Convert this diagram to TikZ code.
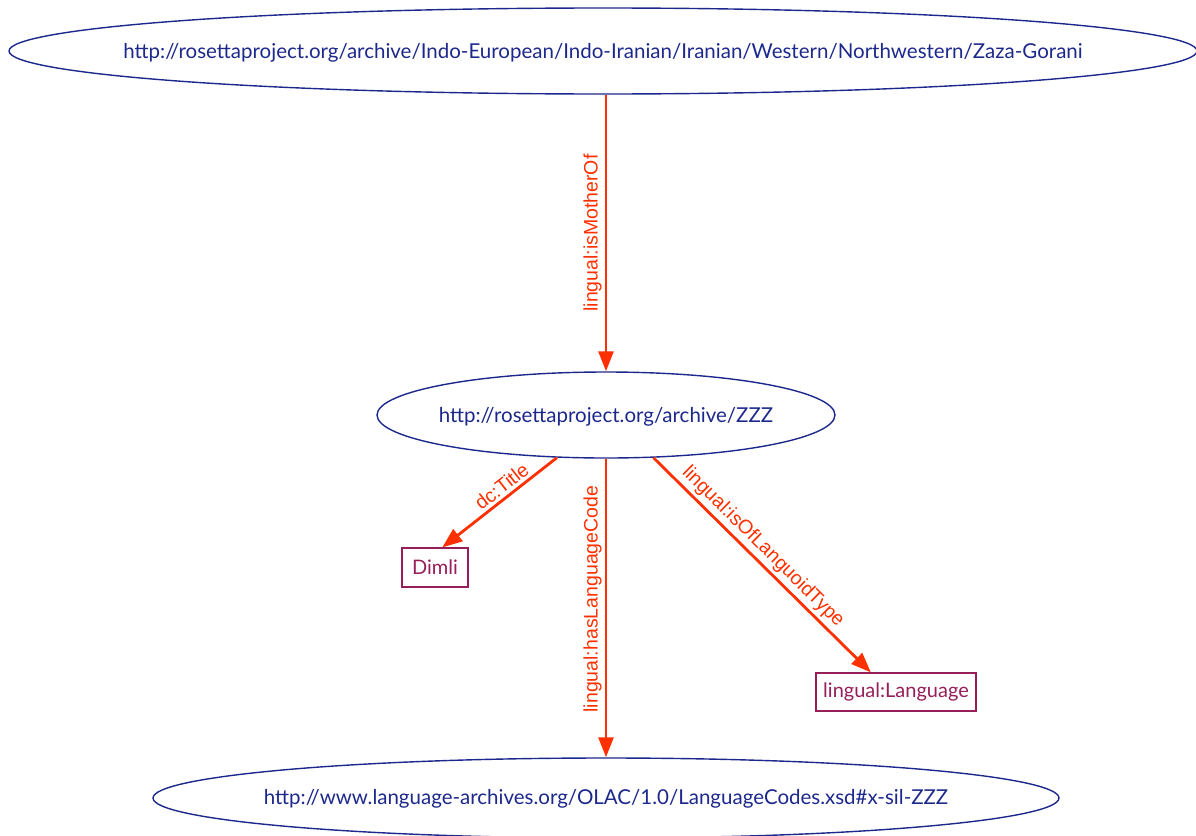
\documentclass[tikz,border=0pt]{standalone}
\usepackage{fontspec}
\setmainfont{Lato}
\newfontfamily\edgefont{Liberation Sans}
\usetikzlibrary{shapes.geometric,arrows.meta}
\definecolor{resblue}{RGB}{28,40,140}
\definecolor{propred}{RGB}{255,48,0}
\definecolor{litmaroon}{RGB}{150,30,90}
\tikzset{
  nodefont/.style={font=\fontsize{20.5}{24}\selectfont},
  resource/.style={ellipse, draw=resblue, line width=1.4pt, inner sep=0pt},
  restext/.style={text=resblue, nodefont, inner sep=0pt},
  literal/.style={rectangle, draw=litmaroon, text=litmaroon, line width=1.2pt,
    inner sep=0pt, font=\fontsize{20}{24}\selectfont},
  prop/.style={draw=propred, line width=2.8pt,
    -{Triangle[length=20pt,width=15pt]}},
  proplabel/.style={text=propred, font=\edgefont\fontsize{19.5}{22}\selectfont, inner sep=3pt}
}
\begin{document}
\begin{tikzpicture}[x=1pt,y=-1pt]
\useasboundingbox (0,0) rectangle (1196,835);

% resources: fixed ellipse outlines, URI centred inside
\node[resource, minimum width=1188pt, minimum height=86pt,
  label={[restext, yshift=-2pt]center:http://rosettaproject.org/archive/Indo-European/Indo-Iranian/Iranian/Western/Northwestern/Zaza-Gorani}]
  (zaza) at (603,51) {};
\node[resource, minimum width=458pt, minimum height=86pt,
  label={[restext, yshift=-2pt]center:http://rosettaproject.org/archive/ZZZ}]
  (zzz) at (606,415) {};
\node[resource, minimum width=906pt, minimum height=80pt,
  label={[restext, yshift=-1pt]center:http://www.language-archives.org/OLAC/1.0/LanguageCodes.xsd\#x-sil-ZZZ}]
  (olac) at (606,798) {};

% literals
\node[literal, minimum width=66pt, minimum height=39pt] (dimli) at (435,567.5) {Dimli};
\node[literal, minimum width=160pt, minimum height=38pt] (lang) at (896,692) {lingual:Language};

% properties
\draw[prop] (zaza.south -| zzz.north) -- (zzz.north)
  node[proplabel, midway, rotate=90, anchor=south] {lingual:isMotherOf};
\draw[prop] (zzz.221) -- (dimli.70)
  node[proplabel, pos=0.42, sloped, above] {dc:Title};
\draw[prop] (zzz.south) -- (olac.north)
  node[proplabel, pos=0.47, rotate=90, anchor=south] {lingual:hasLanguageCode};
\draw[prop] (zzz.318) -- (lang.142)
  node[proplabel, pos=0.46, sloped, above] {lingual:isOfLanguoidType};
\end{tikzpicture}
\end{document}
